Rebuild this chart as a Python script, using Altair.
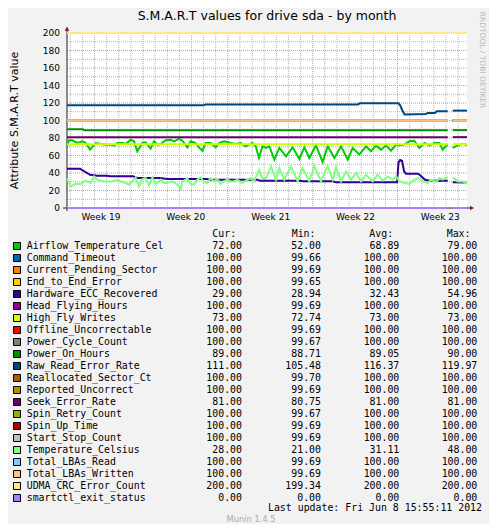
import altair as alt
import pandas as pd

TITLE = "S.M.A.R.T values for drive sda - by month"
Y_TITLE = "Attribute S.M.A.R.T value"
WATERMARK = "RRDTOOL / TOBI OETIKER"
FOOTER = "Munin 1.4.5"
LAST_UPDATE = "Last update: Fri Jun  8 15:55:11 2012"

SERIES = ["Airflow_Temperature_Cel", "Command_Timeout", "Current_Pending_Sector",
          "End_to_End_Error", "Hardware_ECC_Recovered", "Head_Flying_Hours",
          "High_Fly_Writes", "Offline_Uncorrectable", "Power_Cycle_Count",
          "Power_On_Hours", "Raw_Read_Error_Rate", "Reallocated_Sector_Ct",
          "Reported_Uncorrect", "Seek_Error_Rate", "Spin_Retry_Count", "Spin_Up_Time",
          "Start_Stop_Count", "Temperature_Celsius", "Total_LBAs_Read",
          "Total_LBAs_Written", "UDMA_CRC_Error_Count", "smartctl_exit_status"]
COLORS = ["#00CC00", "#0066B3", "#FF8000", "#FFCC00", "#330099", "#990099", "#CCFF00",
          "#FF0000", "#808080", "#008F00", "#00487D", "#B35A00", "#B38F00", "#6B006B",
          "#8FB300", "#B30000", "#BEBEBE", "#80FF80", "#80C9FF", "#FFC080", "#FFE680",
          "#AA80FF"]
CUR = [72.00, 100.00, 100.00, 100.00, 29.00, 100.00, 73.00, 100.00, 100.00, 89.00, 111.00,
       100.00, 100.00, 81.00, 100.00, 100.00, 100.00, 28.00, 100.00, 100.00, 200.00, 0.00]
MIN = [52.00, 99.66, 99.69, 99.65, 28.94, 99.69, 72.74, 99.69, 99.67, 88.71, 105.48,
       99.70, 99.69, 80.75, 99.67, 99.69, 99.69, 21.00, 99.69, 99.69, 199.34, 0.00]
AVG = [68.89, 100.00, 100.00, 100.00, 32.43, 100.00, 73.00, 100.00, 100.00, 89.05, 116.37,
       100.00, 100.00, 81.00, 100.00, 100.00, 100.00, 31.11, 100.00, 100.00, 200.00, 0.00]
MAX = [79.00, 100.00, 100.00, 100.00, 54.96, 100.00, 73.00, 100.00, 100.00, 90.00, 119.97,
       100.00, 100.00, 81.00, 100.00, 100.00, 100.00, 48.00, 100.00, 100.00, 200.00, 0.00]

# time axis: days since start of the 33-day window
WEEK_LABELS = ["Week 19", "Week 20", "Week 21", "Week 22", "Week 23"]
WEEK_LABEL_DAYS = [2.8, 9.8, 16.8, 23.8, 30.8]
WEEK_START_DAYS = [6.27, 13.27, 20.27, 27.27]
DAY_LINES = [0.27 + k for k in range(33) if (k - 6) % 7 != 0]
Y_TICKS = [0, 20, 40, 60, 80, 100, 120, 140, 160, 180, 200]
Y_MINOR = [10, 30, 50, 70, 90, 110, 130, 150, 170, 190]
Y_MAJOR = [20, 40, 60, 80, 100, 120, 140, 160, 180, 200]
GAP_DAY = 31.6

AIRFLOW_DAYS = [0.0, 0.17, 0.44, 0.85, 1.27, 1.54, 1.90, 2.37, 2.78, 3.19, 3.60, 3.88, 4.15,
                4.57, 4.84, 5.25, 5.53, 5.80, 6.22, 6.49, 6.90, 7.18, 7.45, 7.73, 8.14, 8.55,
                8.83, 9.24, 9.52, 9.93, 10.20, 10.62, 10.89, 11.17, 11.44, 11.85, 12.27, 12.54,
                12.95, 13.23, 13.50, 13.92, 14.33, 14.74, 15.02, 15.29, 15.57, 15.84, 16.12,
                16.42, 16.69, 17.11, 17.52, 18.07, 18.62, 19.17, 19.58, 19.99, 20.54, 21.09,
                21.51, 22.06, 22.61, 23.16, 23.57, 24.12, 24.67, 25.08, 25.49, 25.91, 26.32,
                26.73, 27.15, 27.42, 27.83, 28.25, 28.66, 29.07, 29.49, 29.90, 30.31, 30.72,
                31.00, 31.41, 31.82, 32.23, 32.65, 33.0]
AIRFLOW = [70.5, 77.4, 77.4, 74.3, 76.2, 74.3, 66.7, 74.3, 73.1, 72.4, 72.4, 71.2, 74.3,
           74.3, 73.1, 78.1, 76.2, 64.8, 74.3, 75.0, 67.8, 76.2, 72.4, 73.1, 77.4, 78.1,
           76.2, 79.0, 76.9, 69.3, 76.2, 74.3, 69.3, 65.5, 74.3, 74.3, 69.3, 74.3,
           76.2, 75.5, 74.3, 73.1, 74.3, 70.5, 72.4, 74.3, 70.5, 57.2, 70.5,
           68.6, 70.5, 55.3, 68.6, 59.1, 69.3, 56.1, 69.3, 57.2, 71.6, 52.5,
           70.5, 57.2, 70.5, 55.3, 68.6, 61.0, 70.5, 64.8, 71.2, 66.7, 71.6,
           65.5, 72.4, 71.6, 72.4, 76.2, 76.9, 68.6, 74.3, 71.6, 74.3, 74.3,
           66.7, 73.1, 68.6, 71.6, 73.5, 72.0]

TEMP_DAYS = [0.0, 0.30, 0.71, 1.13, 1.54, 1.95, 2.23, 2.50, 3.05, 3.60, 4.15, 4.57, 4.84,
             5.11, 5.39, 5.66, 5.94, 6.22, 6.49, 6.77, 7.04, 7.32, 7.73, 8.00, 8.28, 8.69,
             9.11, 9.38, 9.52, 9.93, 10.20, 10.48, 10.75, 11.03, 11.30, 11.58, 11.85, 12.13,
             12.40, 12.68, 12.95, 13.23, 13.50, 13.78, 14.05, 14.46, 14.88, 15.15, 15.43,
             15.84, 16.12, 16.42, 16.83, 17.24, 17.52, 17.93, 18.48, 19.03, 19.44, 19.99,
             20.41, 20.95, 21.51, 21.92, 22.19, 22.61, 23.02, 23.43, 23.85, 24.26, 24.67,
             25.22, 25.63, 26.05, 26.46, 26.87, 27.15, 27.42, 27.83, 28.25, 28.66, 29.07,
             29.35, 29.76, 30.04, 30.45, 30.72, 31.00, 31.41, 31.82, 32.23, 32.65, 33.0]
TEMP = [33.5, 24.7, 27.4, 27.4, 31.2, 28.5, 36.1, 32.3, 30.4, 30.4, 32.3, 29.7, 28.5,
        26.6, 30.4, 35.0, 24.7, 33.1, 34.2, 25.5, 35.0, 27.4, 32.3, 28.5, 28.5, 30.4,
        26.6, 21.7, 30.4, 33.5, 27.4, 26.6, 32.3, 35.0, 29.7, 28.5, 34.2, 30.4,
        33.1, 27.4, 30.4, 32.3, 30.4, 30.4, 32.3, 28.5, 32.3, 34.2, 30.4,
        43.8, 34.2, 34.2, 47.6, 32.3, 45.7, 32.3, 47.6, 30.4, 45.7, 30.4,
        48.0, 30.4, 47.6, 32.3, 46.7, 30.4, 41.9, 32.3, 39.9, 30.4, 38.1,
        30.4, 38.1, 31.2, 36.1, 32.3, 36.1, 30.4, 28.5, 27.4, 32.3, 34.2,
        30.4, 28.5, 32.3, 29.7, 34.2, 32.3, 35.5, 35.0, 30.4, 30.4, 28.0]

ECC_DAYS = [0.0, 1.07, 1.90, 2.48, 3.30, 3.55, 5.45, 5.78, 7.67, 8.25, 11.55, 11.80, 15.68,
            15.92, 19.22, 19.47, 21.95, 22.19, 27.23, 27.35, 27.48, 27.64, 27.81, 27.97,
            28.96, 29.13, 29.54, 29.95, 31.41, 31.82, 33.0]
ECC = [44.9, 44.9, 38.0, 36.9, 36.9, 36.2, 36.2, 34.3, 34.3, 33.1, 33.1, 32.4, 32.4,
       31.2, 31.2, 30.5, 30.5, 29.3, 29.3, 52.0, 54.9, 54.0, 42.0, 39.2,
       39.2, 37.5, 32.3, 31.2, 31.2, 29.5, 29.0]

RAW_DAYS = [0.0, 11.30, 11.45, 24.00, 24.15, 27.35, 27.50, 27.65, 27.85, 29.60, 29.75,
            30.36, 30.50, 31.41, 31.82, 33.0]
RAW = [117.3, 117.3, 118.4, 118.4, 119.6, 119.6, 117.0, 112.0, 107.0, 107.4, 108.6,
       108.6, 110.5, 110.5, 111.3, 111.3]

POWER_ON_DAYS = [0.0, 1.30, 1.45, 31.41, 31.82, 33.0]
POWER_ON = [90.0, 90.0, 89.0, 89.0, 89.0, 89.0]

FLAT_DAYS = [0.0, 31.41, 31.82, 33.0]
FLAT_LEVEL = {"Command_Timeout": 100, "Current_Pending_Sector": 100, "End_to_End_Error": 100,
              "Head_Flying_Hours": 100, "High_Fly_Writes": 73, "Offline_Uncorrectable": 100,
              "Power_Cycle_Count": 100, "Reallocated_Sector_Ct": 100,
              "Reported_Uncorrect": 100, "Seek_Error_Rate": 81, "Spin_Retry_Count": 100,
              "Spin_Up_Time": 100, "Start_Stop_Count": 100, "Total_LBAs_Read": 100,
              "Total_LBAs_Written": 100, "UDMA_CRC_Error_Count": 200,
              "smartctl_exit_status": 0}

CURVES = {"Airflow_Temperature_Cel": (AIRFLOW_DAYS, AIRFLOW),
          "Temperature_Celsius": (TEMP_DAYS, TEMP),
          "Hardware_ECC_Recovered": (ECC_DAYS, ECC),
          "Raw_Read_Error_Rate": (RAW_DAYS, RAW),
          "Power_On_Hours": (POWER_ON_DAYS, POWER_ON)}

legend_df = pd.DataFrame({"idx": list(range(len(SERIES))), "name": SERIES, "color": COLORS,
                          "cur": CUR, "mn": MIN, "avg": AVG, "mx": MAX})

FONT = "DejaVu Sans"
MONO = "DejaVu Sans Mono"
W, H = 400, 175
xscale = alt.Scale(domain=[0, 33], nice=False, zero=False)
yscale = alt.Scale(domain=[0, 200], nice=False, zero=False)
GRID_MINOR = "#B4B4B4"
GRID_MAJOR = "#E88A8A"

ONE = pd.DataFrame({"k": [0]})


def txt(text, x, y, size, font=FONT, color="#000000", align="left", angle=0):
    return alt.Chart(ONE).mark_text(text=text, font=font, fontSize=size, color=color,
                                    align=align, baseline="middle", angle=angle).encode(
        x=alt.value(x), y=alt.value(y))


X = lambda f: alt.X(f, scale=xscale, axis=None)
Y = lambda f: alt.Y(f, scale=yscale, axis=None)

minor_v = alt.Chart(pd.DataFrame({"day": DAY_LINES})).mark_rule(
    color=GRID_MINOR, strokeDash=[1, 1], strokeWidth=1).encode(
    x=X("day:Q"), y=alt.value(0), y2=alt.value(H))
major_v = alt.Chart(pd.DataFrame({"day": WEEK_START_DAYS})).mark_rule(
    color=GRID_MAJOR, strokeDash=[1, 1], strokeWidth=1).encode(
    x=X("day:Q"), y=alt.value(0), y2=alt.value(H))
minor_h = alt.Chart(pd.DataFrame({"v": Y_MINOR})).mark_rule(
    color=GRID_MINOR, strokeDash=[1, 1], strokeWidth=1).encode(
    y=Y("v:Q"), x=alt.value(0), x2=alt.value(W))
major_h = alt.Chart(pd.DataFrame({"v": Y_MAJOR})).mark_rule(
    color=GRID_MAJOR, strokeDash=[1, 1], strokeWidth=1).encode(
    y=Y("v:Q"), x=alt.value(0), x2=alt.value(W))

ylabels = alt.Chart(pd.DataFrame({"v": Y_TICKS})).mark_text(
    font=FONT, fontSize=9, color="#000000", align="right", baseline="middle").encode(
    y=Y("v:Q"), x=alt.value(-7), text="v:Q")

axis_x = alt.Chart(pd.DataFrame({"a": [-0.33], "b": [33.33], "v": [0]})).mark_rule(
    color="#1F1F1F", strokeWidth=1).encode(x=X("a:Q"), x2="b:Q", y=Y("v:Q"))
axis_y = alt.Chart(pd.DataFrame({"d": [0], "a": [-3.4], "b": [204.6]})).mark_rule(
    color="#1F1F1F", strokeWidth=1).encode(x=X("d:Q"), y=Y("a:Q"), y2="b:Q")
arrow_up = alt.Chart(pd.DataFrame({"d": [0], "v": [205.0]})).mark_point(
    shape="triangle-up", filled=True, size=22, color="#801F1F", opacity=1).encode(
    x=X("d:Q"), y=Y("v:Q"))
arrow_right = alt.Chart(pd.DataFrame({"d": [33.42], "v": [0]})).mark_point(
    shape="triangle-right", filled=True, size=22, color="#801F1F", opacity=1).encode(
    x=X("d:Q"), y=Y("v:Q"))

line_layers = []
for i, name in enumerate(SERIES):
    if name in CURVES:
        ds, vs = CURVES[name]
    else:
        ds, vs = FLAT_DAYS, [FLAT_LEVEL[name]] * len(FLAT_DAYS)
    df = pd.DataFrame({"day": ds, "value": vs})
    df["seg"] = (df["day"] > GAP_DAY).astype(int)
    line_layers.append(
        alt.Chart(df).mark_line(strokeWidth=2, color=COLORS[i]).encode(
            x=X("day:Q"), y=Y("value:Q"), detail="seg:N"))

weeks = alt.Chart(pd.DataFrame({"day": WEEK_LABEL_DAYS, "label": WEEK_LABELS})).mark_text(
    font=FONT, fontSize=9, color="#000000", baseline="middle", align="center").encode(
    x=X("day:Q"), y=alt.value(H + 8.5), text="label:N")

leg_base = alt.Chart(legend_df).transform_calculate(ly="213 + 12 * datum.idx")
leg_y = alt.Y("ly:Q", scale=None, axis=None)
swatch = leg_base.mark_square(size=49, stroke="#000000", strokeWidth=1, opacity=1).encode(
    x=alt.value(-50), y=alt.Y("ly:Q", scale=None, axis=None),
    fill=alt.Fill("color:N", scale=None))
names = leg_base.mark_text(font=MONO, fontSize=9.9, align="left", baseline="middle",
                           color="#000000").encode(x=alt.value(-40.3), y=leg_y, text="name:N")
cols = []
for field, xr in [("cur", 175), ("mn", 254), ("avg", 332.3), ("mx", 410.3)]:
    cols.append(leg_base.mark_text(font=MONO, fontSize=9.9, align="right", baseline="middle",
                                   color="#000000").encode(
        x=alt.value(xr), y=leg_y, text=alt.Text(f"{field}:Q", format=".2f")))

headers = [txt("Cur:", 145.3, 200.5, 9.9, font=MONO), txt("Min:", 224.7, 200.5, 9.9, font=MONO),
           txt("Avg:", 302.3, 200.5, 9.9, font=MONO), txt("Max:", 379.7, 200.5, 9.9, font=MONO)]

title = txt(TITLE, W / 2, -17.5, 12.5, align="center")
ytitle = txt(Y_TITLE, -52.5, H / 2, 11, align="center", angle=270)
water = txt(WATERMARK, 414.5, 27, 7.5, color="#B8B8B8", align="center", angle=90)
last = txt(LAST_UPDATE, 415, 475, 9.9, font=MONO, align="right")
footer = txt(FOOTER, 184, 487, 8.3, color="#AAAAAA", align="center")

chart = alt.layer(
    minor_v, minor_h, major_v, major_h, axis_x, axis_y, arrow_up, arrow_right,
    *line_layers, ylabels, weeks,
    swatch, names, *cols, *headers, title, ytitle, water, last, footer
).properties(
    width=W, height=H,
    padding={"left": 59, "top": 25, "right": 22, "bottom": 316},
    autosize=alt.AutoSizeParams(type="none"),
    background="#F2F2F2",
).configure_view(stroke=None, fill="#FFFFFF")

chart.save("out.html", embed_options={"renderer": "svg", "actions": False})
